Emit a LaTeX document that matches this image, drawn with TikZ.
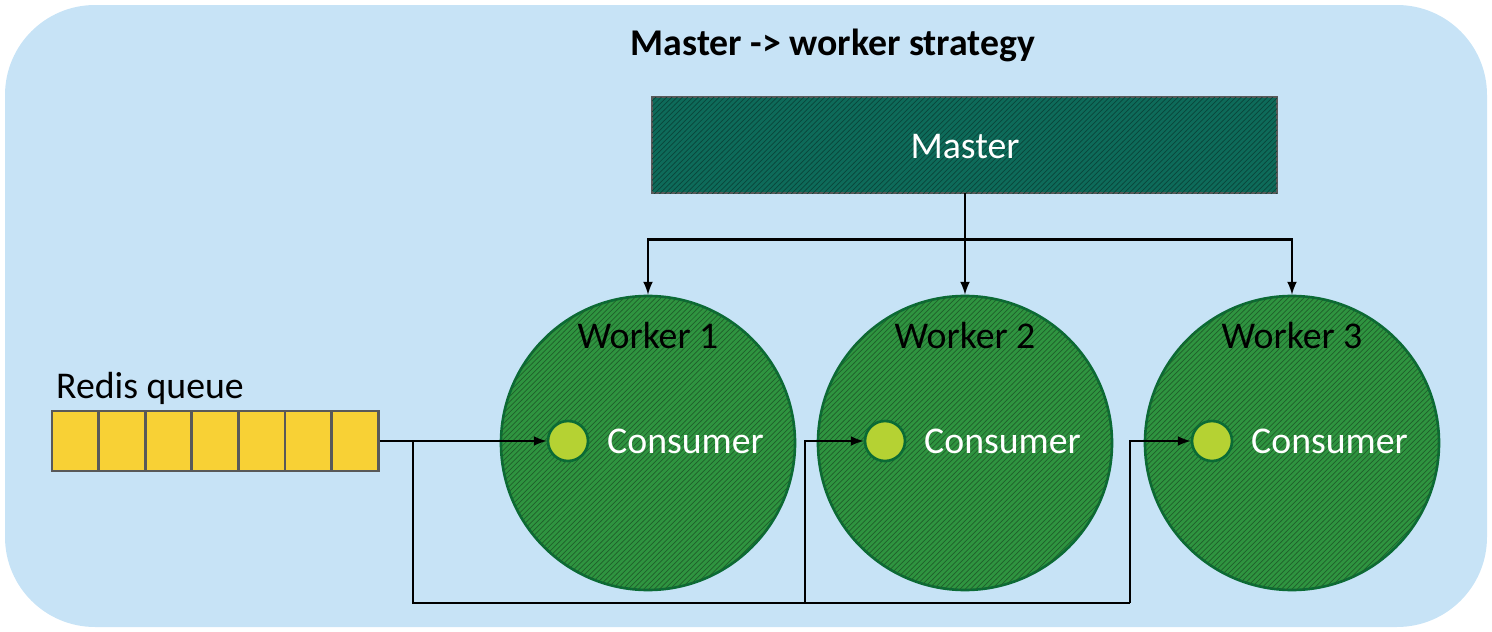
\documentclass[tikz,border=0pt]{standalone}
\usepackage{fontspec}
\setmainfont{Carlito}
\usepackage{tikz}
\usetikzlibrary{patterns}
\usetikzlibrary{calc}
\definecolor{bgblue}{HTML}{C7E3F6}
\definecolor{mastergreen}{HTML}{0E6B5A}
\definecolor{workergreen}{HTML}{2F9440}
\definecolor{workerline}{HTML}{0B6B35}
\definecolor{dotgreen}{HTML}{B5D233}
\definecolor{queueyellow}{HTML}{F8D135}
\newlength{\px}
\setlength{\px}{0.02cm}
\tikzset{
  worker/.style={circle,draw=workerline,line width=1.5pt,fill=workergreen,minimum size=294\px,inner sep=0pt,
    postaction={pattern=north east lines,pattern color=black!35!workergreen}},
  consumer/.style={circle,draw=workerline,line width=1.5pt,fill=dotgreen,minimum size=40\px,inner sep=0pt},
  cell/.style={draw=black!65,line width=1.5pt,fill=queueyellow,minimum width=46.6\px,minimum height=60\px,inner sep=0pt},
  link/.style={line width=1.5pt,-latex},
  big/.style={font=\fontsize{21.5}{24}\selectfont},
}
\begin{document}
\begin{tikzpicture}[x=0.02cm,y=-0.02cm]
            \useasboundingbox (0,0) rectangle (1492,632);
            \fill[bgblue,rounded corners=90\px] (5,5) rectangle (1487,627);
            \node[font=\bfseries\fontsize{21.5}{24}\selectfont] (title) at (833,45) {Master -> worker strategy};

            \draw[draw=black!65,line width=1.5pt,fill=mastergreen,postaction={pattern=north east lines,pattern color=black!35!mastergreen}]
                (652,97) rectangle (1277,193);
            \node[text=white,big] (master) at (965,147) {Master};
            \coordinate (mb) at (965,193);

            \foreach \i/\x in {1/648,2/965,3/1292} {
                \node[worker] (w\i) at (\x,443) {};
                \node[big] at (\x,336) {Worker \i};
                \node[consumer] (c\i) at ($(\x,441)+(-80,0)$) {};
                \node[text=white,anchor=west,big] at ($(\x,441)+(-47,0)$) {Consumer};
            }

            \foreach \i in {0,...,6}
                \node[cell] (q\i) at (75.3+46.6*\i,441) {};
            \node[anchor=west,big] (qlabel) at (50,388) {Redis queue};

            % master to workers
            \draw[link] (mb) -- (w2.north);
            \draw[link] (mb) |- ($(w1.north)+(0,-55)$) -- (w1.north);
            \draw[link] (mb) |- ($(w3.north)+(0,-55)$) -- (w3.north);

            % queue to consumers
            \draw[link] (q6.east) -- (c1.west);
            \draw[line width=1.5pt] (413,441) -- (413,603) -- (1130,603);
            \draw[link] (805,603) |- (c2.west);
            \draw[link] (1130,603) |- (c3.west);
        \end{tikzpicture}
\end{document}
